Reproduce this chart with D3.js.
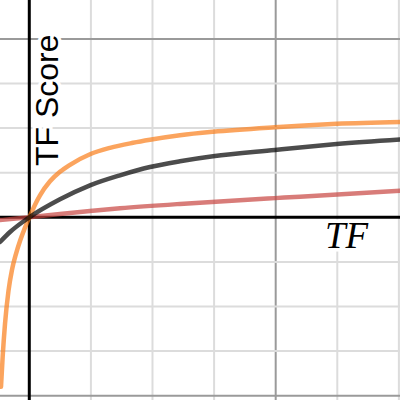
<!DOCTYPE html>
<html>
<head>
<meta charset="utf-8">
<script src="https://cdn.jsdelivr.net/npm/d3@7"></script>
<style>
  body { margin: 0; background: #fff; }
</style>
</head>
<body>
<svg width="400" height="400"></svg>
<script>
// values (one grid square = 1 unit)
var xOrange = [-0.4594, -0.4318, -0.3945, -0.3377, -0.2808, -0.2159, -0.1510, -0.0779, 0, 0.1737, 0.3360, 0.4984, 0.6607, 0.9854, 1.3101, 1.6834, 1.9594, 2.4464, 2.9821, 3.9886, 4.3945, 4.9903, 6.0178];
var yOrange = [-3.800, -3.114, -2.392, -1.648, -1.177, -0.818, -0.531, -0.258, 0, 0.493, 0.807, 1.020, 1.177, 1.413, 1.558, 1.670, 1.738, 1.839, 1.917, 2.018, 2.052, 2.096, 2.137];

var xBlack = [-0.4756, -0.313, 0, 0.4984, 0.9854, 1.4724, 1.9594, 2.4464, 2.9821, 3.9886, 4.3945, 4.9903, 6.0178];
var yBlack = [-0.554, -0.330, 0, 0.404, 0.717, 0.942, 1.128, 1.256, 1.368, 1.511, 1.567, 1.641, 1.742];

var xRed = [-0.4756, 0, 0.4984, 0.9854, 1.4724, 2.4464, 3.9886, 4.3945, 6.0178];
var yRed = [-0.063, 0, 0.076, 0.143, 0.202, 0.300, 0.430, 0.462, 0.594];

var xLabel = "TF";
var yLabel = "TF Score";

var svg = d3.select("svg"),
    width = +svg.attr("width"),
    height = +svg.attr("height");

var x = d3.scaleLinear().domain([-0.4756, 6.018]).range([0, width]);
var y = d3.scaleLinear().domain([-4.096, 4.872]).range([height, 0]);

function pairs(xs, ys) {
  return xs.map(function(d, i) { return [d, ys[i]]; });
}

// grid
var grid = svg.append("g");
grid.selectAll("line.v")
  .data(d3.range(Math.ceil(x.domain()[0]), Math.floor(x.domain()[1]) + 1).filter(function(d) { return d != 0; }))
  .enter().append("line")
    .attr("x1", function(d) { return x(d); })
    .attr("x2", function(d) { return x(d); })
    .attr("y1", 0).attr("y2", height)
    .attr("stroke", function(d) { return d % 4 == 0 ? "#9a9a9a" : "#dcdcdc"; })
    .attr("stroke-width", 2);

grid.selectAll("line.h")
  .data(d3.range(Math.ceil(y.domain()[0]), Math.floor(y.domain()[1]) + 1).filter(function(d) { return d != 0; }))
  .enter().append("line")
    .attr("y1", function(d) { return y(d); })
    .attr("y2", function(d) { return y(d); })
    .attr("x1", 0).attr("x2", width)
    .attr("stroke", function(d) { return d % 4 == 0 ? "#9a9a9a" : "#dcdcdc"; })
    .attr("stroke-width", 2);

// labels with white halo
svg.append("text")
    .attr("transform", "translate(58,166) rotate(-90)")
    .attr("font-family", "'Liberation Sans', Arial, sans-serif")
    .attr("font-size", 32)
    .attr("fill", "#000")
    .attr("stroke", "#fff")
    .attr("stroke-width", 7)
    .attr("paint-order", "stroke")
    .text(yLabel);

svg.append("text")
    .attr("x", 325)
    .attr("y", 248)
    .attr("font-family", "'Liberation Serif', 'Times New Roman', serif")
    .attr("font-style", "italic")
    .attr("font-size", 37)
    .attr("fill", "#000")
    .attr("stroke", "#fff")
    .attr("stroke-width", 7)
    .attr("paint-order", "stroke")
    .text(xLabel);

// axes
svg.append("line")
    .attr("x1", x(0)).attr("x2", x(0))
    .attr("y1", 0).attr("y2", height)
    .attr("stroke", "#000").attr("stroke-width", 3);
svg.append("line")
    .attr("y1", y(0)).attr("y2", y(0))
    .attr("x1", 0).attr("x2", width)
    .attr("stroke", "#000").attr("stroke-width", 3);

// curves
var line = d3.line()
    .x(function(d) { return x(d[0]); })
    .y(function(d) { return y(d[1]); })
    .curve(d3.curveMonotoneX);

var series = [
  { pts: pairs(xRed, yRed), color: "#c74440" },
  { pts: pairs(xOrange, yOrange), color: "#fa7e19" },
  { pts: pairs(xBlack, yBlack), color: "#000000" }
];

svg.append("g").selectAll("path")
  .data(series)
  .enter().append("path")
    .attr("d", function(d) { return line(d.pts); })
    .attr("fill", "none")
    .attr("stroke", function(d) { return d.color; })
    .attr("stroke-opacity", 0.7)
    .attr("stroke-width", 4.5)
    .attr("stroke-linecap", "round")
    .attr("stroke-linejoin", "round");
</script>
</body>
</html>
